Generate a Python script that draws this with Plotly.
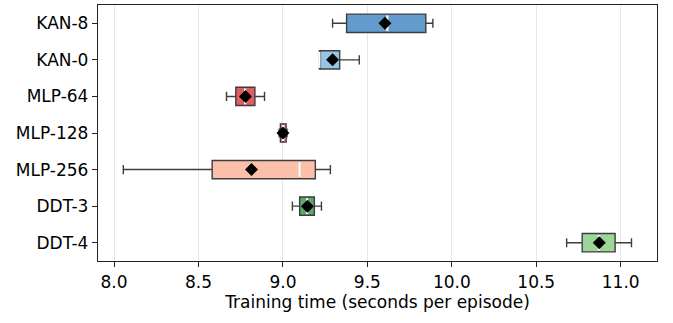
import plotly.graph_objects as go

# Per-run training time summaries (seconds per episode)
models = ["KAN-8", "KAN-0", "MLP-64", "MLP-128", "MLP-256", "DDT-3", "DDT-4"]
lower_whisker = [9.294, 9.216, 8.666, 8.978, 8.055, 9.056, 10.680]
q1 = [9.377, 9.216, 8.721, 8.985, 8.581, 9.099, 10.772]
median = [9.618, 9.216, 8.776, 9.001, 9.099, 9.143, 10.871]
q3 = [9.846, 9.336, 8.834, 9.019, 9.192, 9.186, 10.967]
upper_whisker = [9.888, 9.452, 8.891, 9.024, 9.281, 9.228, 11.064]
mean = [9.604, 9.294, 8.778, 9.000, 8.814, 9.145, 10.873]
colors = [
    "rgb(99,155,206)",
    "rgb(150,198,230)",
    "rgb(223,94,100)",
    "rgb(240,140,128)",
    "rgb(252,192,170)",
    "rgb(93,168,108)",
    "rgb(157,214,152)",
]
x_ticks = [8.0, 8.5, 9.0, 9.5, 10.0, 10.5, 11.0]

FONT = "DejaVu Sans"
BOX_W = 0.5
positions = list(range(len(models)))

fig = go.Figure()

for i, name in enumerate(models):
    fig.add_trace(go.Box(
        y=[positions[i]],
        q1=[q1[i]], median=[median[i]], q3=[q3[i]],
        lowerfence=[lower_whisker[i]], upperfence=[upper_whisker[i]],
        orientation="h",
        width=BOX_W,
        whiskerwidth=0.5,
        fillcolor=colors[i],
        line=dict(color="#3d3d3d", width=1.4),
        boxpoints=False,
        hoverinfo="skip",
        showlegend=False,
    ))

# white median lines across each box
for i in range(len(models)):
    fig.add_trace(go.Scatter(
        x=[median[i], median[i]],
        y=[positions[i] - BOX_W / 2 + 0.03, positions[i] + BOX_W / 2 - 0.03],
        mode="lines",
        line=dict(color="white", width=2.2),
        hoverinfo="skip",
        showlegend=False,
    ))

# mean markers
fig.add_trace(go.Scatter(
    x=mean, y=positions,
    mode="markers",
    marker=dict(symbol="diamond", size=10, color="black", line=dict(width=0)),
    hoverinfo="skip",
    showlegend=False,
))

fig.update_layout(
    width=673, height=323,
    margin=dict(l=98, r=16, t=5, b=62),
    paper_bgcolor="white",
    plot_bgcolor="white",
    font=dict(family=FONT, size=17, color="black"),
    xaxis=dict(
        range=[7.905, 11.215],
        tickvals=x_ticks,
        ticktext=[f"{v:.1f}" for v in x_ticks],
        showgrid=True, gridcolor="#e6e6e6", gridwidth=1,
        zeroline=False,
        showline=True, linecolor="#222", linewidth=1.3, mirror=True,
        ticks="outside", ticklen=5, tickcolor="#222", tickwidth=1.2,
        tickfont=dict(size=17),
        title=dict(text="Training time (seconds per episode)",
                   font=dict(size=17), standoff=5),
    ),
    yaxis=dict(
        range=[6.5, -0.5],
        tickvals=positions,
        ticktext=models,
        showgrid=False,
        zeroline=False,
        showline=True, linecolor="#222", linewidth=1.3, mirror=True,
        ticks="outside", ticklen=5, tickcolor="#222", tickwidth=1.2,
        tickfont=dict(size=17),
    ),
)

fig.write_html("out.html")
